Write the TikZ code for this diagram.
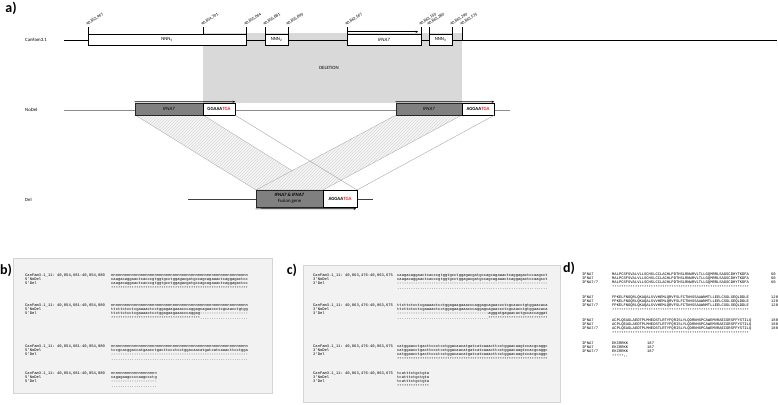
\documentclass[tikz,border=0pt]{standalone}
\usepackage{fontspec}
\setmainfont{Carlito}
\setmonofont{Liberation Mono}
\usetikzlibrary{patterns,arrows.meta,calc}
\ExplSyntaxOn
\cs_new:Npn \myrep #1#2 { \prg_replicate:nn {#1} {#2} }
\ExplSyntaxOff
\definecolor{delgray}{HTML}{D9D9D9}
\definecolor{darkbox}{HTML}{808080}
\definecolor{panelbg}{HTML}{F2F2F2}
\definecolor{panelbd}{HTML}{D4D4D4}
\definecolor{stopred}{HTML}{E8202A}
\definecolor{linegray}{HTML}{8C8C8C}
\begin{document}
\begin{tikzpicture}[x=1pt,y=-1pt,
 lbl/.style={font=\fontsize{4.8}{5.5}\selectfont, inner sep=0pt},
 num/.style={font=\fontsize{4.3}{5}\selectfont, inner sep=0pt, anchor=base west, rotate=34},
 panellbl/.style={font=\bfseries\fontsize{14}{15}\selectfont, inner sep=0pt},
 sq/.style={font=\ttfamily\fontsize{3.8}{4}\selectfont, inner sep=0pt, anchor=base west},
 wbox/.style={draw=black, line width=0.5pt, fill=white, inner sep=0pt, font=\fontsize{4.8}{5.5}\selectfont},
 gbox/.style={draw=black!85, line width=0.6pt, fill=darkbox, inner sep=0pt, font=\fontsize{4.8}{5.5}\selectfont},
 band/.style={draw=gray!70, line width=0.3pt, pattern=north east lines, pattern color=gray!30},
 tickl/.style={line width=0.5pt},
 fwd/.style={-{Stealth[length=2.6pt,width=2.2pt]}, line width=0.6pt},
 ]
\useasboundingbox (0,0) rectangle (778,404);

% ---------------- panel a ----------------
\node[panellbl] (pa) at (11,8) {a)};
\fill[delgray] (203,33) rectangle (462,103);
\node[lbl] (deltxt) at (329,68) {DELETION};

\node[lbl, anchor=west] (canlbl) at (25,40) {CanFam3.1};
\coordinate (canL) at (64,40);
\coordinate (canR) at (777,40);
\draw[line width=0.6pt] (canL) -- (canR);

\node[wbox, minimum width=158pt, minimum height=11pt] (nnn5) at (167,39.5) {NNN\textsubscript{5}};
\node[wbox, minimum width=23pt, minimum height=11pt] (nnn2) at (276.5,39.5) {NNN\textsubscript{2}};
\node[wbox, minimum width=74pt, minimum height=11pt] (ifna) at (384,39.5) {\textit{IFNA7}};
\node[wbox, minimum width=23pt, minimum height=11pt] (nnn3) at (440.5,39.5) {NNN\textsubscript{3}};
\draw[fwd] ($(ifna.north west)+(0,-2)$) -- ($(ifna.north east)+(-3,-2)$);

% ticks and positions
\foreach \x/\t/\yb [count=\k] in {88/40{,}853{,}967/34, 203/40{,}854{,}701/34, 246/40{,}855{,}064/34, 265/40{,}856{,}881/34, 288/40{,}856{,}890/34, 347/40{,}862{,}567/34, 421/40{,}863{,}150/34, 429/40{,}863{,}280/34, 452/40{,}863{,}290/34, 462/40{,}863{,}575/40}{
  \coordinate (tb\k) at (\x,\yb);
  \coordinate (tt\k) at (\x,27);
  \draw[tickl] (tb\k) -- (tt\k);
  \node[num] (pos\k) at (\x-0.8,26) {\t};
}

% NoDel
\node[lbl, anchor=west] (nodellbl) at (25,110) {NoDel};
\coordinate (ndL) at (64,110);
\coordinate (ndR) at (510,110);
\draw[linegray, line width=1pt] (ndL) -- (ndR);

% bands (behind boxes)
\coordinate (dA) at (256,190);
\coordinate (dB) at (323,190);
\coordinate (dC) at (357,190);
\draw[band, preaction={fill=gray!7}] (135,115) -- (203,115) -- (dB) -- (dA) -- cycle;
\draw[band, preaction={fill=gray!7}] (396,115) -- (462,115) -- (dB) -- (dA) -- cycle;

\node[gbox, minimum width=68pt, minimum height=12pt] (nd1) at (169,109) {\textit{IFNA7}};
\node[wbox, minimum width=32pt, minimum height=12pt] (nd1s) at (219,109) {\textbf{GGAAA\textcolor{stopred}{TGA}}};
\node[gbox, minimum width=66pt, minimum height=12pt] (nd2) at (429,109) {\textit{IFNA7}};
\node[wbox, minimum width=32pt, minimum height=12pt] (nd2s) at (478,109) {\textbf{AGGAA\textcolor{stopred}{TGA}}};
\draw[fwd] ($(nd1.north west)+(0,-1)$) -- ($(nd1s.north east)+(0,-1)$);
\draw[fwd] ($(nd2.north west)+(0,-1)$) -- ($(nd2s.north east)+(0,-1)$);
\draw[gray!70, line width=0.4pt] (nd1s.south east) -- (dC);
\draw[gray!70, line width=0.4pt] (nd2s.south east) -- (dC);

% Del
\node[lbl, anchor=west] (dellbl) at (25,200) {Del};
\coordinate (dlL) at (188,199);
\coordinate (dlR) at (373,199);
\draw[black!75, line width=0.6pt] (dlL) -- (dlR);
\node[gbox, minimum width=67pt, minimum height=17pt, align=center] (fus) at (289.5,198.5) {\textit{\textbf{IFNA7 \& IFNA7}}\\[0.3pt] Fusion gene};
\node[wbox, minimum width=34pt, minimum height=17pt] (fuss) at (340,198.5) {\textbf{AGGAA\textcolor{stopred}{TGA}}};
\draw[fwd] ($(fus.south west)+(0,1.5)$) -- ($(fuss.south east)+(-1,1.5)$);

% ---------------- panel b ----------------
\node[panellbl] (pb) at (6,270) {b)};
\draw[panelbd, fill=panelbg, line width=0.5pt] (13,258) rectangle (272,393);
\foreach \y/\h/\a/\b/\s [count=\k] in {
 276/{\myrep{60}{n}}/{caagacaggaactcacccgtggtgcctggagacgatgccagcagaaactcaggagactcc}/{caagacaggaactcacccgtggtgcctggagacgatgccagcagaaactcaggagactcc}/{\myrep{60}{*}},
 306/{\myrep{60}{n}}/{ttcttctcctcgaaaactcctggagaagaaacccaggagcagaaccctcgcaacctgtgg}/{ttcttctcctcgaaaactcctggagaagaaacccaggag\myrep{21}{-}}/{\myrep{39}{*}\myrep{21}{.}},
 347/{\myrep{60}{n}}/{tccgcacggaccatgaacctgacttccctcctggacaacatgatcatcaaacttcctgga}/{\myrep{60}{-}}/{\myrep{60}{.}},
 374/{\myrep{20}{n}}/{cagagaagccccaagccctg}/{\myrep{20}{-}}/{\myrep{20}{.}}}{
  \node[sq] (bh\k) at (25,\y) {CanFam3.1\_11: 40,854,681-40,854,880};
  \node[sq] (bn\k) at (25,\y+4.4) {5'NoDel};
  \node[sq] (bd\k) at (25,\y+8.8) {5'Del};
  \node[sq] (bhs\k) at (111,\y) {\h};
  \node[sq] (bns\k) at (111,\y+4.4) {\a};
  \node[sq] (bds\k) at (111,\y+8.8) {\b};
  \node[sq] (bss\k) at (111,\y+13.2) {\s};
}

% ---------------- panel c ----------------
\node[panellbl] (pc) at (292,270) {c)};
\draw[panelbd, fill=panelbg, line width=0.5pt] (303,265) rectangle (560,402);
\foreach \y/\h/\b/\s [count=\k] in {
 276/{caagacaggaactcacccgtggtgcctggagacgatgccagcagaaactcaggagactccaagcct}/{\myrep{66}{-}}/{\myrep{66}{.}},
 306/{ttcttctcctcgaaaactcctggagaagaaacccaggagcagaaccctcgcaacctgtggaacaca}/{\myrep{40}{-}agggatgagaacactgccaccaggat}/{\myrep{40}{.}\myrep{26}{*}},
 347/{catggaacctgacttccctcctggacaacatgatcatcaaacttcctggaacaagtccacgcaggc}/{catggaacctgacttccctcctggacaacatgatcatcaaacttcctggaacaagtccacgcaggc}/{\myrep{66}{*}},
 374/{tcatttctgctgta}/{tcatttctgctgta}/{\myrep{14}{*}}}{
  \node[sq] (ch\k) at (313,\y) {CanFam3.1\_11: 40,863,476-40,863,675};
  \node[sq] (cn\k) at (313,\y+4.4) {3'NoDel};
  \node[sq] (cd\k) at (313,\y+8.8) {3'Del};
  \node[sq] (chs\k) at (397,\y) {\h};
  \node[sq] (cns\k) at (397,\y+4.4) {\h};
  \node[sq] (cds\k) at (397,\y+8.8) {\b};
  \node[sq] (css\k) at (397,\y+13.2) {\s};
}

% ---------------- panel d ----------------
\node[panellbl] (pd) at (569,268) {d)};
\foreach \y/\q/\n/\s/\nx [count=\k] in {
 275/MALPCSFSVALVLLSCHSLCCLACHLPDTHSLRNWRVLTLLGQMRRLSAGSCDHYTKDFA/60/{\myrep{60}{*}}/771,
 298/FPKELFNGQRLQKAQALSVVHEMLQRVFSLFCTNHSSAAWNMTLLEELCSGLSEQLDDLE/120/{\myrep{60}{*}}/771,
 321/ACPLQEAGLAEDTPLMHEDSTLRTYFQRISLYLQDRNHSPCAWEMVRAEIGRSFFYSTILQ/180/{\myrep{60}{*}}/771,
 344/EKIRRKK/187/{*****::}/647}{
  \node[sq] (da\k) at (582,\y) {IFNA7};
  \node[sq] (db\k) at (582,\y+4.4) {IFNA7};
  \node[sq] (dc\k) at (582,\y+8.8) {IFNA7/7};
  \node[sq] (das\k) at (612,\y) {\q};
  \node[sq] (dbs\k) at (612,\y+4.4) {\q};
  \node[sq] (dcs\k) at (612,\y+8.8) {\q};
  \node[sq] (dss\k) at (612,\y+13.2) {\s};
  \node[sq] (dan\k) at (\nx,\y) {\n};
  \node[sq] (dbn\k) at (\nx,\y+4.4) {\n};
  \node[sq] (dcn\k) at (\nx,\y+8.8) {\n};
}
\end{tikzpicture}
\end{document}
